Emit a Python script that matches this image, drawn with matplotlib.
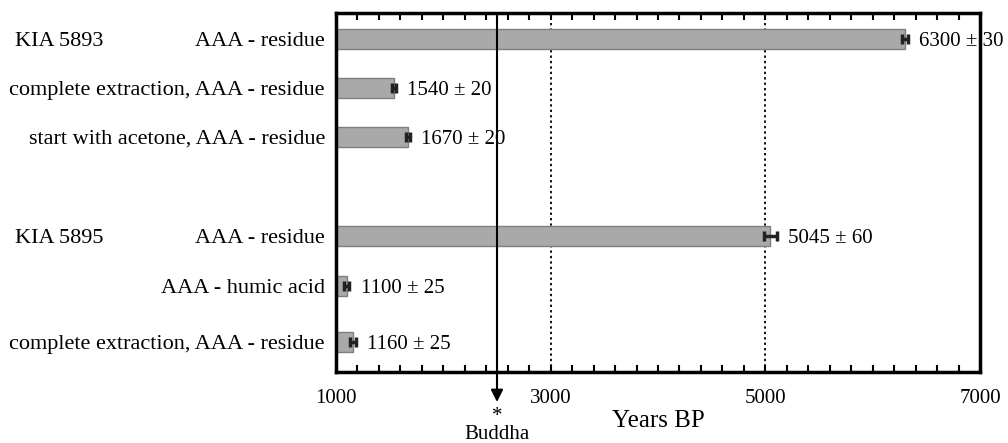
import matplotlib
matplotlib.use("Agg")
import matplotlib.pyplot as plt
import numpy as np

# data
labels = ["AAA - residue",
          "complete extraction, AAA - residue",
          "start with acetone, AAA - residue",
          "AAA - residue",
          "AAA - humic acid",
          "complete extraction, AAA - residue"]
ages = [6300, 1540, 1670, 5045, 1100, 1160]
errors = [30, 20, 20, 60, 25, 25]
samples = ["KIA 5893", "KIA 5895"]
sample_rows = [0, 3]
buddha_age = 2500
x_ticklabels = [1000, 3000, 5000, 7000]

# layout
rows = [0, 1, 2, 4.02, 5.04, 6.18]

plt.rcParams['font.family'] = ['Liberation Serif', 'DejaVu Serif']

fig = plt.figure(figsize=(10.08, 4.43), dpi=100)
ax = fig.add_axes([336/1008, 1-372/443, (980-336)/1008, (372-13)/443])

ax.barh(rows, [a - 1000 for a in ages], left=1000, height=0.41,
        color='#a9a9a9', edgecolor='#7f7f7f', linewidth=1, zorder=2)
ax.errorbar(ages, rows, xerr=errors, fmt='none', ecolor='#222222',
            elinewidth=2.5, capsize=3.5, capthick=2.5, zorder=3)

for y, a, e in zip(rows, ages, errors):
    ax.annotate(f"{a} \u00b1 {e}", xy=(a + e, y), xytext=(8, 0),
                textcoords='offset points', va='center_baseline', ha='left', fontsize=15)

# dotted reference lines
for xv in [3000, 5000]:
    ax.axvline(xv, color='black', linestyle=(0, (1.3, 1.7)), linewidth=1.3, zorder=1)

ax.set_xlim(1000, 7000)
ax.set_ylim(6.8, -0.53)

ticks = np.arange(1000, 7001, 200)
ax.set_xticks(ticks)
ax.set_xticklabels([str(t) if t in x_ticklabels else "" for t in ticks], fontsize=15)
ax.tick_params(axis='x', direction='in', length=5, width=1.5, top=True, pad=12)
ax.set_yticks(rows)
ax.set_yticklabels(labels, fontsize=16, va='center_baseline')
ax.tick_params(axis='y', length=0, pad=8)
for s in ax.spines.values():
    s.set_linewidth(2.5)

ax.set_xlabel("Years BP", fontsize=18, labelpad=2)

for name, r in zip(samples, sample_rows):
    ax.annotate(name, xy=(15/1008, rows[r]), xycoords=('figure fraction', 'data'),
                fontsize=16, ha='left', va='center_baseline', annotation_clip=False)

# Buddha arrow
ax.annotate("", xy=(buddha_age, 443 - 402), xycoords=('data', 'figure pixels'),
            xytext=(buddha_age, -0.53), textcoords='data',
            arrowprops=dict(arrowstyle='-|>', color='black', lw=1.5,
                            mutation_scale=18, shrinkA=0, shrinkB=0),
            annotation_clip=False)
ax.annotate("*\nBuddha", xy=(buddha_age, 443 - 407), xycoords=('data', 'figure pixels'),
            ha='center', va='top', fontsize=15, linespacing=0.9, annotation_clip=False)

fig.savefig("out.png", dpi=100)
